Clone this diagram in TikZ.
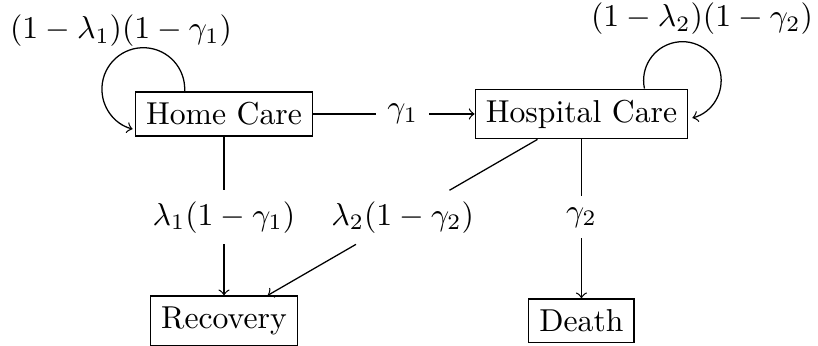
\documentclass[tikz,border=0pt]{standalone}
\usetikzlibrary{matrix}
\begin{document}
\begin{tikzpicture}
  \tikzstyle{stage}=[draw,font=\normalsize]
  \useasboundingbox (-2.484,-2.562) rectangle (6.587,1.264);
  \matrix [column sep={1.982cm,between origins},row sep={1.146cm,between origins},matrix anchor=home.center] at (0,0) {
    \node [stage] (home) {Home Care}; & \node (g1) {$\gamma_1$}; &
    \node [stage] (hosp) {Hospital Care}; \\
    \node (l1) {$\lambda_1(1-\gamma_1)$}; & \node (l2) {$\lambda_2(1-\gamma_2)$}; &
    \node (g2) {$\gamma_2$}; \\
    \node [stage] (rec) {Recovery}; & &
    \node [stage] (death) {Death}; \\
  };
  \node (p1) at (-1.142,0.920) {$(1-\lambda_1)(1-\gamma_1)$};
  \node (p2) at (5.30,1.054) {$(1-\lambda_2)(1-\gamma_2)$};
  \draw (home) -- (g1);
  \draw [->] (g1) -- (hosp);
  \draw (home) -- (l1);
  \draw [->] (l1) -- (rec);
  \draw (hosp) -- (l2);
  \draw [->] (l2) -- (rec);
  \draw (hosp) -- (g2);
  \draw [->] (g2) -- (death);
  % self loops
  \draw [->] (home.150) arc [start angle=-3,end angle=255,radius=0.459cm];
  \draw [->] (hosp.22) arc [start angle=192,end angle=-75,radius=0.43cm];
\end{tikzpicture}
\end{document}
